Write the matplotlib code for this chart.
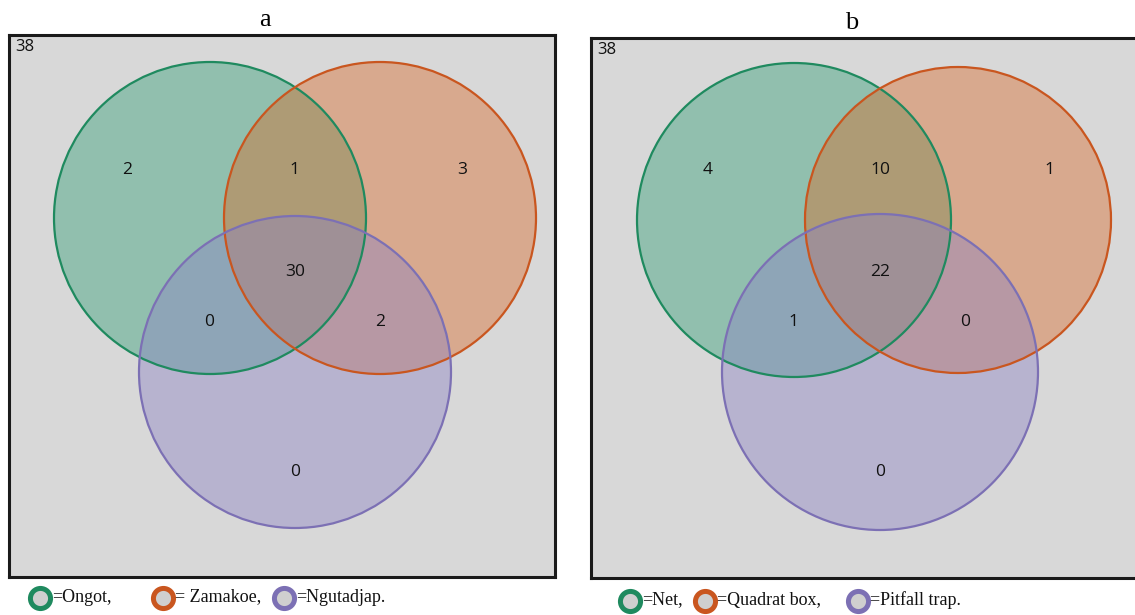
import matplotlib.pyplot as plt
from matplotlib.patches import Circle

# species counts per Venn region (A only, B only, C only, AB, AC, BC, ABC)
regions = ["100", "010", "001", "110", "101", "011", "111"]
counts_a = [2, 3, 0, 1, 0, 2, 30]
counts_b = [4, 1, 0, 10, 1, 0, 22]
sets_a = ["Ongot,", " Zamakoe,", "Ngutadjap."]
sets_b = ["Net,", "Quadrat box,", "Pitfall trap."]
titles = ["a", "b"]

edge_cols = ["#1f8a5f", "#c9561f", "#7c70b4"]
fill_cols = ["#2f9e74", "#d86a28", "#8b82c4"]
bg = "#d8d8d8"

W, H = 1135, 615
fig = plt.figure(figsize=(W / 100, H / 100), dpi=100)


def add_px_axes(x0, y0, x1, y1):
    ax = fig.add_axes([x0 / W, 1 - y1 / H, (x1 - x0) / W, (y1 - y0) / H])
    ax.set_xlim(x0, x1)
    ax.set_ylim(y1, y0)
    ax.set_xticks([])
    ax.set_yticks([])
    return ax


def draw_panel(box, circles, label_pos, counts, title, title_x, legend_x, legend_y, names):
    ax = add_px_axes(*box)
    ax.set_facecolor(bg)
    for s in ax.spines.values():
        s.set_linewidth(2.2)
        s.set_color("#1a1a1a")
    for (cx, cy, r), fc in zip(circles, fill_cols):
        ax.add_patch(Circle((cx, cy), r, facecolor=fc, alpha=0.42, edgecolor="none"))
    for (cx, cy, r), ec in zip(circles, edge_cols):
        ax.add_patch(Circle((cx, cy), r, facecolor="none", edgecolor=ec, lw=1.6))
    for reg, n in zip(regions, counts):
        x, y = label_pos[reg]
        ax.text(x, y, str(n), ha="center", va="center", fontsize=12.5,
                family="Open Sans", color="#111111")
    ax.text(box[0] + 6, box[1] + 4, str(sum(counts)), ha="left", va="top",
            fontsize=12, family="Open Sans", color="#111111")
    ax.text(title_x, box[1] - 4, title, ha="center", va="bottom",
            family="Liberation Serif", fontsize=19, clip_on=False)

    # legend row beneath the panel
    lg = add_px_axes(box[0] - 9, 580, box[0] + 540, 615)
    lg.axis("off")
    for x, ec, name in zip(legend_x, edge_cols, names):
        lg.scatter([x], [legend_y], s=210, facecolor="#cfcfcf", edgecolor=ec,
                   linewidth=3.6, clip_on=False)
        lg.text(x + 12, legend_y - 1, "=" + name, ha="left", va="center",
                family="Liberation Serif", fontsize=13, color="#111111")


draw_panel(
    (9, 35, 555, 577),
    [(210, 218, 156), (380, 218, 156), (295, 372, 156)],
    {"100": (127, 170), "010": (462, 170), "001": (295, 472),
     "110": (294, 170), "101": (209, 322), "011": (380, 322), "111": (295, 272)},
    counts_a, titles[0], 265, [40, 163, 284], 598, sets_a,
)
draw_panel(
    (591, 38, 1140, 578),
    [(794, 220, 157), (958, 220, 153), (880, 372, 158)],
    {"100": (708, 170), "010": (1049, 170), "001": (880, 472),
     "110": (880, 170), "101": (793, 322), "011": (965, 322), "111": (880, 272)},
    counts_b, titles[1], 852, [630, 705, 858], 601, sets_b,
)

fig.savefig("out.png", dpi=100, facecolor="white")
